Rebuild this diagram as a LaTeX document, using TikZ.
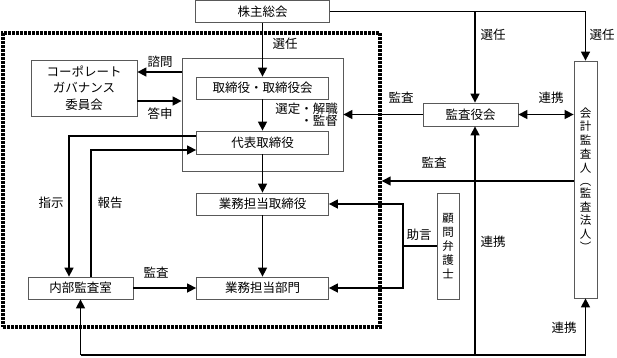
\documentclass[tikz,border=0pt]{standalone}
\usepackage{fontspec}
\newfontfamily\jp{Noto Sans CJK JP}
\usetikzlibrary{arrows.meta,calc}
\begin{document}
\begin{tikzpicture}[x=1pt,y=-1pt,
 box/.style={draw=black!65, line width=0.8pt, fill=white, inner sep=0pt, font=\jp\fontsize{12.5}{14}\selectfont},
 vbox/.style={box, font=\jp\fontsize{11.5}{13.8}\selectfont, align=center},
 lab/.style={font=\jp\fontsize{12.5}{14}\selectfont, inner sep=0pt},
 arr/.style={line width=1.5pt, -{Triangle[length=9pt,width=9pt]}},
 ln/.style={line width=1.5pt},
 darr/.style={line width=1.5pt, {Triangle[length=9pt,width=9pt]}-{Triangle[length=9pt,width=9pt]}},
]
\useasboundingbox (0,0) rectangle (617,357);

% dotted frame and inner frame
\node[draw, line width=3.4pt, dash pattern=on 2.6pt off 1.4pt, minimum width=377pt, minimum height=294pt, inner sep=0pt] (dot) at (191.5,180) {};
\node[draw=black!65, line width=0.8pt, minimum width=161pt, minimum height=113pt, inner sep=0pt] (inner) at (262.5,114.5) {};

% boxes
\node[box, minimum width=134pt, minimum height=22pt] (kabu) at (262.5,11.6) {株主総会};
\node[box, minimum width=132pt, minimum height=22pt] (tb) at (262.5,88) {取締役・取締役会};
\node[box, minimum width=132pt, minimum height=23pt] (daihyo) at (262.5,142.5) {代表取締役};
\node[box, minimum width=132pt, minimum height=22pt] (gtori) at (262.5,204) {業務担当取締役};
\node[box, minimum width=132pt, minimum height=22pt] (gbumon) at (262.5,288) {業務担当部門};
\node[box, minimum width=105pt, minimum height=22pt] (naibu) at (80.5,288) {内部監査室};
\node[box, minimum width=106pt, minimum height=56pt, align=center, font=\jp\fontsize{12.5}{16.5}\selectfont] (cg) at (84,88) {コーポレート\\ガバナンス\\委員会};
\node[box, minimum width=95pt, minimum height=23pt] (kansa) at (470.5,114.5) {監査役会};
\node[vbox, minimum width=23pt, minimum height=237pt] (kaikei) at (585.5,179.5) {会\\計\\監\\査\\人\\[-1pt]︵\\[-1.5pt]監\\査\\法\\人\\[-1pt]︶};
\node[vbox, minimum width=22pt, minimum height=106pt] (komon) at (448,246) {顧\\問\\弁\\護\\士};

% helper coordinates
\coordinate (vx) at (475,0);
\coordinate (by) at (0,355);
\coordinate (jx) at (403,0);
\coordinate (q1) at (0,72);
\coordinate (q2) at (0,101);
\coordinate (q3) at (0,181);

% connectors
\draw[arr] (kabu) -- (tb);
\draw[arr] (kabu.east) -| (kaikei.north);
\draw[arr] (vx |- kabu.east) -- (vx |- kansa.north);
\draw[arr] (tb) -- (daihyo);
\draw[arr] (kansa.west) -- (inner.east |- kansa.west);
\draw[darr] (kansa.east) -- (kaikei.west |- kansa.east);
\draw[arr] (inner.west |- q1) -- (cg.east |- q1);
\draw[arr] (cg.east |- q2) -- (inner.west |- q2);
\draw[arr] ([yshift=6.5pt]daihyo.west) -| ([xshift=-11.5pt]naibu.north);
\draw[arr] ([xshift=10.5pt]naibu.north) |- ([yshift=-7.5pt]daihyo.west);
\draw[arr] (daihyo) -- (gtori);
\draw[arr] (gtori) -- (gbumon);
\draw[arr] (naibu) -- (gbumon);
\draw[arr] (kaikei.west |- q3) -- (dot.east |- q3);
\draw[ln] (komon.west) -- (jx |- komon.west);
\draw[arr] (jx |- komon.west) |- (gtori.east);
\draw[arr] (jx |- komon.west) |- (gbumon.east);
\draw[arr] (naibu.south |- by) -- (naibu.south);
\draw[arr] (naibu.south |- by) -| (kaikei.south);
\draw[arr] (vx |- by) -- (vx |- kansa.south);

% labels
\node[lab] (l1) at (285,44) {選任};
\node[lab] (l2) at (493,35) {選任};
\node[lab] (l3) at (602,35) {選任};
\node[lab] (l4) at (160,62) {諮問};
\node[lab] (l5) at (160,114) {答申};
\node[lab, anchor=east] (l6) at (338,109) {選定・解職};
\node[lab, anchor=east] (l7) at (338,121) {・監督};
\node[lab] (l8) at (401,98) {監査};
\node[lab] (l9) at (551,98) {連携};
\node[lab] (l10) at (434,163) {監査};
\node[lab] (l11) at (51,203) {指示};
\node[lab] (l12) at (110,203) {報告};
\node[lab] (l13) at (419,235) {助言};
\node[lab] (l14) at (493,242) {連携};
\node[lab] (l15) at (156,273) {監査};
\node[lab] (l16) at (564,328) {連携};
\end{tikzpicture}
\end{document}
